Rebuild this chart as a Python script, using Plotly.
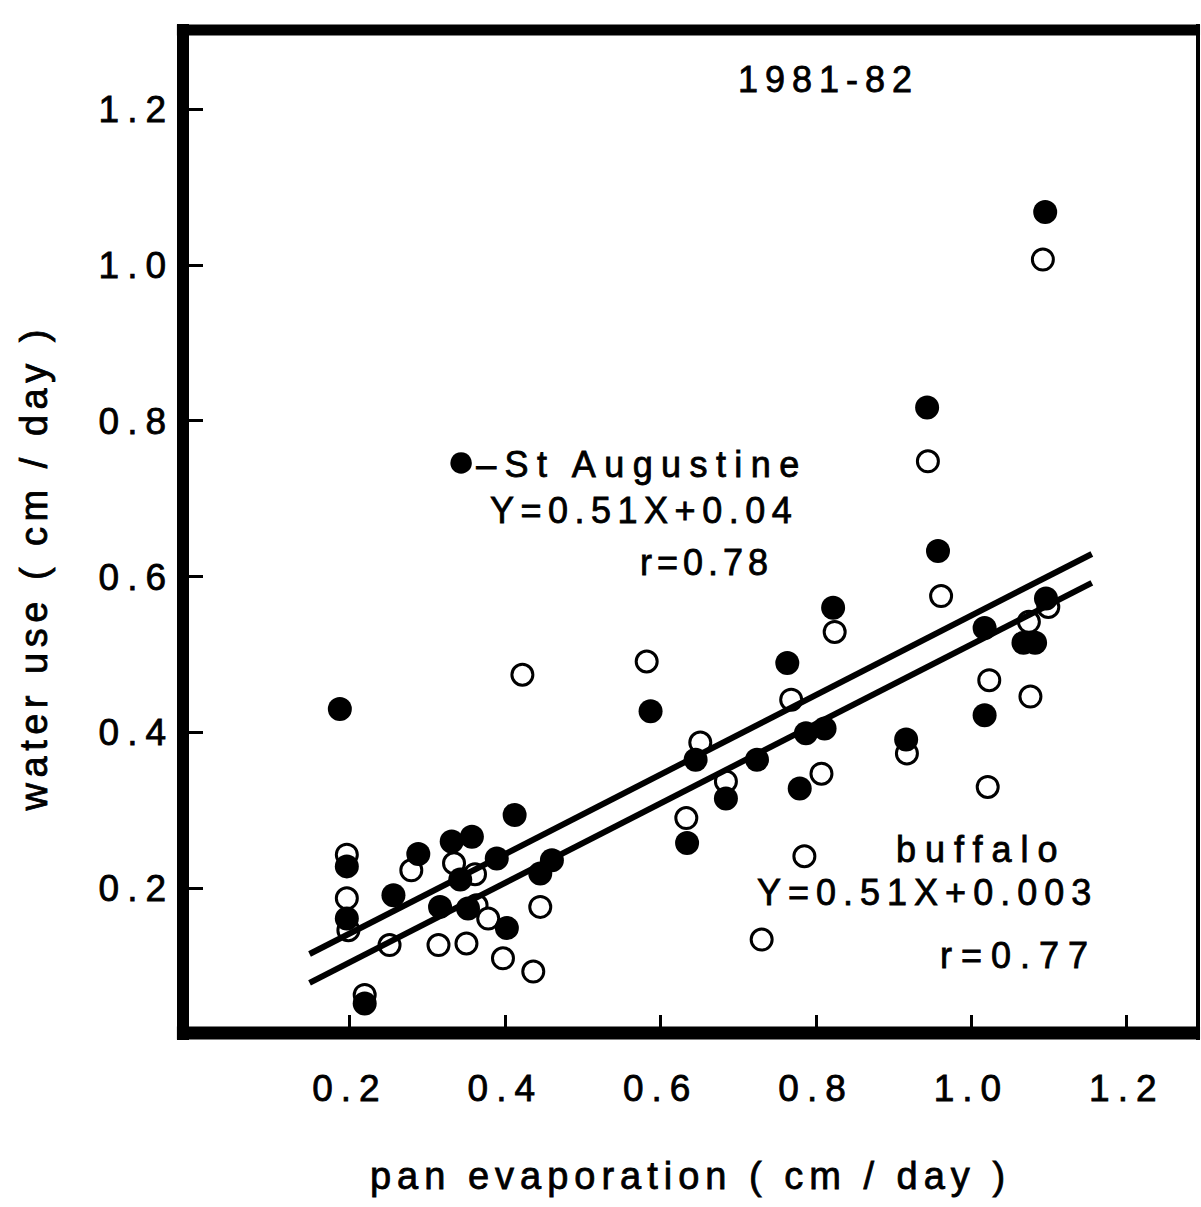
import plotly.graph_objects as go

# ---------------- data ----------------
st_aug_x = [0.187, 0.412, 0.357, 0.331, 0.288, 0.196, 0.389, 0.342, 0.256, 0.316,
            0.352, 0.196, 0.402, 0.445, 0.460, 0.219, 0.763, 0.587, 0.645, 0.724,
            0.787, 0.811, 0.684, 0.779, 0.634, 0.822, 0.957, 1.096, 1.017, 1.067,
            1.082, 1.017, 0.916, 1.095, 0.943]
st_aug_y = [0.430, 0.294, 0.266, 0.260, 0.244, 0.228, 0.238, 0.211, 0.191, 0.176,
            0.174, 0.161, 0.149, 0.219, 0.236, 0.052, 0.489, 0.427, 0.365, 0.365,
            0.399, 0.405, 0.315, 0.328, 0.258, 0.560, 0.633, 0.572, 0.534, 0.515,
            0.515, 0.422, 0.391, 1.068, 0.817]

buffalo_x = [0.422, 0.196, 0.196, 0.198, 0.279, 0.334, 0.361, 0.363, 0.378, 0.445,
             0.251, 0.314, 0.350, 0.397, 0.436, 0.219, 0.824, 0.582, 0.768, 0.651,
             0.684, 0.807, 0.633, 0.785, 0.730, 0.961, 1.074, 1.099, 1.023, 1.076,
             0.917, 1.021, 1.092, 0.944]
buffalo_y = [0.474, 0.243, 0.187, 0.146, 0.223, 0.232, 0.218, 0.178, 0.161, 0.176,
             0.127, 0.127, 0.129, 0.110, 0.093, 0.063, 0.529, 0.491, 0.442, 0.387,
             0.337, 0.347, 0.290, 0.241, 0.134, 0.575, 0.542, 0.561, 0.467, 0.446,
             0.373, 0.330, 1.007, 0.748]

# published regressions: Y = slope * X + intercept
st_aug_fit = (0.51, 0.04)
buffalo_fit = (0.51, 0.003)
fit_x = [0.148, 1.155]

tick_vals = [0.2, 0.4, 0.6, 0.8, 1.0, 1.2]
tick_text = ["0.2", "0.4", "0.6", "0.8", "1.0", "1.2"]

FONT = "Liberation Sans, Arial, Helvetica, sans-serif"
STROKE = "stroke:black;stroke-width:0.8px"


def spaced(s, px):
    return f'<span style="letter-spacing:{px}px;{STROKE}">{s}</span>'


def spaced_shift(s, px, last_px):
    """letter-spaced text whose last glyph gets its own trailing spacing
    (used only to nudge the centred y-axis title along its axis)."""
    return (f'<span style="letter-spacing:{px}px;{STROKE}">{s[:-1]}</span>'
            f'<span style="letter-spacing:{last_px}px;{STROKE}">{s[-1]}</span>')


fig = go.Figure()

# buffalo (open circles)
fig.add_trace(go.Scatter(
    x=buffalo_x, y=buffalo_y, mode="markers", name="buffalo",
    marker=dict(symbol="circle", size=21, color="white",
                line=dict(color="black", width=3)),
    showlegend=False, cliponaxis=False))

# St Augustine (filled circles)
fig.add_trace(go.Scatter(
    x=st_aug_x, y=st_aug_y, mode="markers", name="St Augustine",
    marker=dict(symbol="circle", size=24, color="black",
                line=dict(width=0)),
    showlegend=False, cliponaxis=False))

# regression lines
for (a, b), nm in [(st_aug_fit, "St Augustine fit"), (buffalo_fit, "buffalo fit")]:
    fig.add_trace(go.Scatter(
        x=fit_x, y=[a * x + b for x in fit_x], mode="lines", name=nm,
        line=dict(color="black", width=6), showlegend=False))

# frame (thick, as in the scanned original)
frame = [
    dict(x0=0, x1=0, y0=-0.007, y1=1.006, w=12),
    dict(x0=-0.006, x1=1.002, y0=1, y1=1, w=11),
    dict(x0=-0.006, x1=1.002, y0=0, y1=0, w=13),
    dict(x0=1, x1=1, y0=-0.007, y1=1.006, w=4),
]
for f in frame:
    fig.add_shape(type="line", xref="paper", yref="paper",
                  x0=f["x0"], x1=f["x1"], y0=f["y0"], y1=f["y1"],
                  line=dict(color="black", width=f["w"]), layer="above")

ann_font = dict(family=FONT, size=36, color="black")
legend_text = ('<span style="font-size:50px">●</span>'
               + spaced("–St Augustine", 8.4))
annotations = [
    dict(text=spaced("1981-82", 7), x=0.816, y=1.238, xanchor="center"),
    dict(text=legend_text, x=0.321, y=0.750, xanchor="left"),
    dict(text=spaced("Y=0.51X+0.04", 6.5), x=0.378, y=0.6855, xanchor="left"),
    dict(text=spaced("r=0.78", 5), x=0.5706, y=0.618, xanchor="left"),
    dict(text=spaced("buffalo", 9), x=0.901, y=0.2497, xanchor="left"),
    dict(text=spaced("Y=0.51X+0.003", 7), x=0.721, y=0.195, xanchor="left"),
    dict(text=spaced("r=0.77", 9), x=0.957, y=0.113, xanchor="left"),
]
for a in annotations:
    fig.add_annotation(xref="x", yref="y", yanchor="middle", showarrow=False,
                       font=ann_font, **a)

axis_common = dict(
    showgrid=False, zeroline=False, showline=False,
    ticks="inside", tickwidth=3, tickcolor="black",
    tickvals=tick_vals, ticktext=[spaced(t, 8) for t in tick_text],
    tickfont=dict(family=FONT, size=37, color="black"),
)

fig.update_xaxes(range=[-0.0149, 1.2917], ticklen=18, ticklabelstandoff=30,
                 title=dict(text=spaced("pan evaporation ( cm / day )", 6),
                            font=dict(family=FONT, size=38, color="black"),
                            standoff=54),
                 **axis_common)
fig.update_yaxes(range=[0.0141, 1.3017], ticklen=20, ticklabelstandoff=8,
                 title=dict(text=spaced_shift("water use ( cm / day )", 5.5, 77),
                            font=dict(family=FONT, size=38, color="black"),
                            standoff=39),
                 **axis_common)

fig.update_layout(
    width=1201, height=1207,
    margin=dict(l=183, r=3, t=30, b=174),
    paper_bgcolor="white", plot_bgcolor="white",
    font=dict(family=FONT, color="black"),
    showlegend=False,
)

fig.write_html(
    "out.html",
    config={"displayModeBar": False},
    post_script="document.body.style.margin='0';"
                "document.body.style.overflow='hidden';",
)
